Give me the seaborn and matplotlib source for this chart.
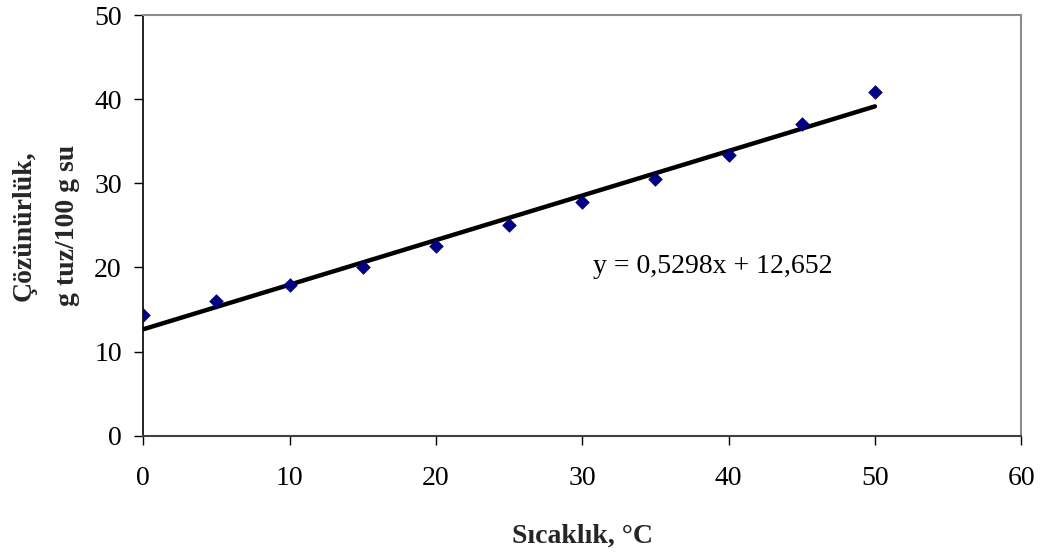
import matplotlib
matplotlib.use("Agg")
import matplotlib.pyplot as plt
import seaborn as sns
import numpy as np
import pandas as pd

# Data
temperature = [0, 5, 10, 15, 20, 25, 30, 35, 40, 45, 50]
solubility = [14.3, 16.0, 17.9, 20.1, 22.5, 25.0, 27.8, 30.5, 33.4, 37.1, 40.9]
slope = 0.5298
intercept = 12.652
equation_label = "y = 0,5298x + 12,652"
x_ticks = [0, 10, 20, 30, 40, 50, 60]
y_ticks = [0, 10, 20, 30, 40, 50]

sns.set_style("ticks")
plt.rcParams['font.family'] = ['Liberation Serif', 'DejaVu Serif']

df = pd.DataFrame({"x": temperature, "y": solubility})
trend = pd.DataFrame({"x": [temperature[0], temperature[-1]]})
trend["y"] = slope * trend["x"] + intercept

fig = plt.figure(figsize=(10.45, 5.54), dpi=100)
ax = fig.add_axes([0.1371, 0.2135, 0.9773 - 0.1371, 0.9729 - 0.2135])

sns.lineplot(data=trend, x="x", y="y", ax=ax, color="black", linewidth=3.2, zorder=2)
sns.scatterplot(data=df, x="x", y="y", ax=ax, marker="D", s=48,
                color="#000080", edgecolor="#000080", linewidth=0.5, zorder=3)

ax.set_xlim(0, 60)
ax.set_ylim(0, 50)
ax.set_xticks(x_ticks)
ax.set_yticks(y_ticks)
ax.tick_params(axis="both", labelsize=20, length=6.5, width=1, direction="out",
               colors="black")
ax.tick_params(axis="y", pad=9)
ax.tick_params(axis="x", pad=15)

for side in ["top", "right"]:
    ax.spines[side].set_visible(True)
    ax.spines[side].set_color("#8c8c8c")
    ax.spines[side].set_linewidth(1.5)
ax.spines["left"].set_color("black")
ax.spines["left"].set_linewidth(1.2)
ax.spines["bottom"].set_color("#404040")
ax.spines["bottom"].set_linewidth(1.5)

ax.set_xlabel("Sıcaklık, °C", fontsize=20, fontweight="bold", labelpad=24)
ax.set_ylabel("Çözünürlük,\ng tuz/100 g su", fontsize=20, fontweight="bold",
              linespacing=1.95)
ax.yaxis.set_label_coords(-0.072, 0.5)

ax.text(30.7, 20.1, equation_label, fontsize=20, ha="left", va="center", color="black")

fig.savefig("out.png", dpi=100)
